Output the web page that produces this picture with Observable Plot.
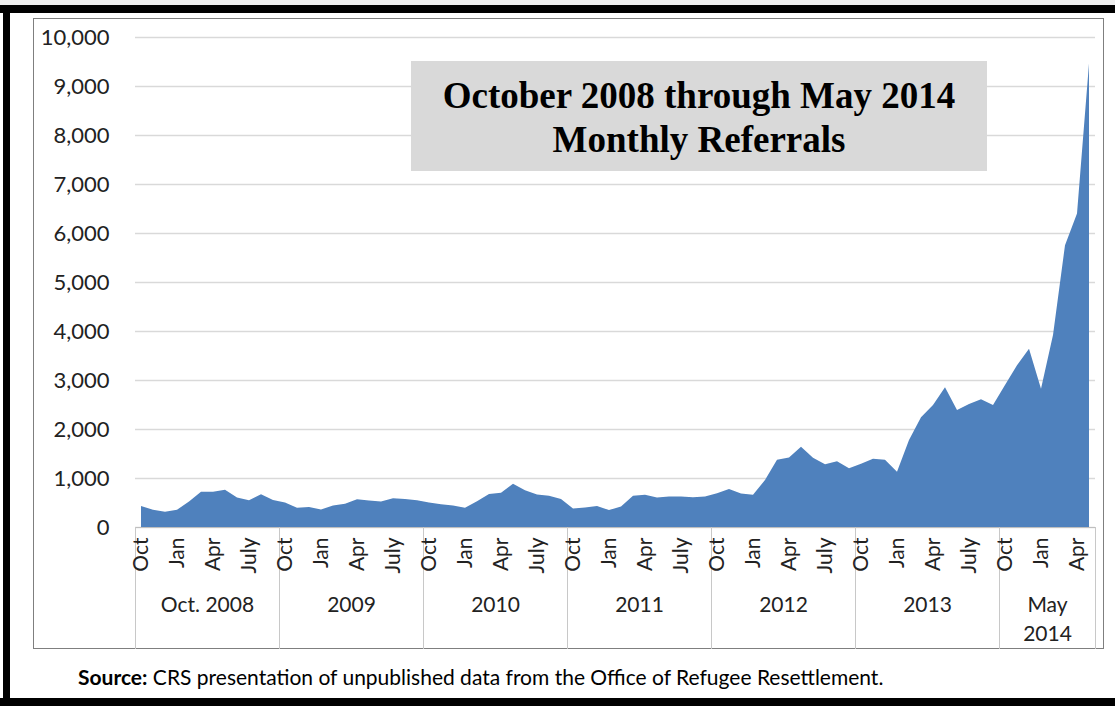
<!DOCTYPE html>
<html><head><meta charset="utf-8">
<script src="https://cdn.jsdelivr.net/npm/d3@7"></script>
<script src="https://cdn.jsdelivr.net/npm/@observablehq/plot@0.6"></script>
<style>
html,body{margin:0;padding:0;background:#fff;}
#page{position:relative;width:1115px;height:706px;overflow:hidden;background:#fff;font-family:Lato,sans-serif;}
.bar{position:absolute;background:#000;}
#topstrip{position:absolute;left:0;top:0;width:1115px;height:5px;background:#eeeeee;}
#frame{position:absolute;left:33px;top:18px;width:1071px;height:631px;border:1px solid #7f7f7f;box-sizing:border-box;}
#chart{position:absolute;left:0;top:0;}
#title{position:absolute;left:411px;top:61px;width:576px;height:110px;background:#d9d9d9;font-family:"Liberation Serif","Times New Roman",serif;font-weight:bold;font-size:37px;text-align:center;line-height:44px;box-sizing:border-box;padding-top:13px;color:#000;}
#caption{position:absolute;left:78px;top:665px;font-size:21px;line-height:24px;color:#000;white-space:nowrap;}
</style>
</head><body>
<div id="page">
  <div id="topstrip"></div>
  <div class="bar" style="left:0;top:5px;width:1115px;height:8px;"></div>
  <div class="bar" style="left:3px;top:5px;width:7px;height:701px;"></div>
  <div class="bar" style="left:0;top:698px;width:1115px;height:8px;"></div>
  <div id="frame"></div>
  <div id="chart"></div>
  <div id="title">October 2008 through May 2014<br>Monthly Referrals</div>
  <div id="caption"><b>Source:</b> CRS presentation of unpublished data from the Office of Refugee Resettlement.</div>
</div>
<script>
// Monthly referrals, Oct 2008 onward (80 months as drawn)
const referrals = [
  430, 350, 310, 350, 520, 720, 720, 760, 600, 545, 670, 550,
  500, 395, 410, 355, 440, 475, 565, 540, 520, 585, 570, 545,
  500, 465, 440, 395, 525, 675, 700, 885, 750, 665, 640, 570,
  380, 400, 430, 345, 420, 640, 660, 600, 625, 625, 605, 620,
  690, 775, 685, 660, 960, 1370, 1420, 1640, 1415, 1280, 1340, 1200,
  1290, 1395, 1375, 1130, 1775, 2240, 2490, 2850, 2390, 2510, 2605, 2490,
  2900, 3300, 3640, 2820, 3920, 5750, 6400, 9460
];
const monthTickLabels = ["Oct", "Jan", "Apr", "July"];
const groupLabels = ["Oct. 2008", "2009", "2010", "2011", "2012", "2013", "May\n2014"];
const groupSizes = [12, 12, 12, 12, 12, 12, 8];
const yTicks = [0, 1000, 2000, 3000, 4000, 5000, 6000, 7000, 8000, 9000, 10000];

const data = referrals.map((v, i) => ({i, v}));

// derive group boundaries, centers and month ticks
const starts = [];
let acc = 0;
for (const s of groupSizes) { starts.push(acc); acc += s; }
const boundaries = [...starts, acc].map(b => b - 0.5);
const centers = starts.map((s, k) => s + groupSizes[k] / 2 - 0.5);
const centerLabel = new Map(centers.map((c, k) => [c, groupLabels[k]]));
const monthTicks = [];
const monthLabel = new Map();
starts.forEach((s, k) => {
  for (let m = 0; m < groupSizes[k]; m += 3) {
    monthTicks.push(s + m);
    monthLabel.set(s + m, monthTickLabels[m / 3]);
  }
});

const chart = Plot.plot({
  width: 1115,
  height: 650,
  marginLeft: 135,
  marginRight: 20,
  marginTop: 37,
  marginBottom: 123,
  style: {fontFamily: "Lato, sans-serif", fontSize: "22px", color: "#222", background: "transparent", overflow: "visible"},
  x: {domain: [-0.5, referrals.length - 0.5], axis: null, label: null},
  y: {domain: [0, 10000], axis: null, label: null},
  marks: [
    Plot.gridY({ticks: yTicks, stroke: "#d9d9d9", strokeOpacity: 1, strokeWidth: 1.4}),
    Plot.areaY(data, {x: "i", y: "v", fill: "#4f81bd"}),
    Plot.ruleY([0], {stroke: "#bfbfbf", strokeWidth: 1.2}),
    Plot.axisY({ticks: yTicks, tickFormat: d3.format(","), tickSize: 0, tickPadding: 26, fontSize: 22, label: null}),
    Plot.axisX(boundaries, {tickSize: 122, tickFormat: () => "", stroke: "#c8c8c8", label: null}),
    Plot.axisX(monthTicks, {tickSize: 0, tickPadding: 10, tickRotate: -90, textAnchor: "end", tickFormat: d => monthLabel.get(d), fontSize: 21, label: null}),
    Plot.axisX(centers, {tickSize: 0, tickPadding: 64, tickFormat: d => centerLabel.get(d), fontSize: 21, lineHeight: 1.38, label: null})
  ]
});
document.getElementById("chart").appendChild(chart);
</script>
</body></html>
